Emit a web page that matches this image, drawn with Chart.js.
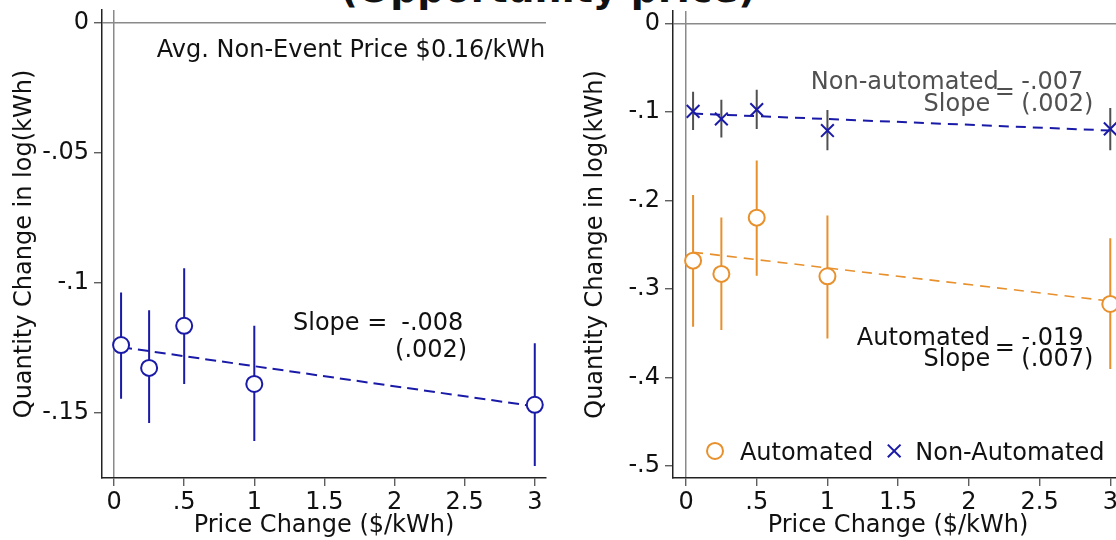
<!DOCTYPE html>
<html>
<head>
<meta charset="utf-8">
<script src="https://cdn.jsdelivr.net/npm/chart.js@4"></script>
<style>
  html, body { margin: 0; padding: 0; background: #fff; }
  body { width: 1116px; height: 540px; overflow: hidden; position: relative; }
  canvas { position: absolute; top: 0; }
  #title {
    position: absolute; left: 0; width: 1096px; top: -30px;
    text-align: center; white-space: nowrap; color: #111;
    font: bold 38px "DejaVu Sans"; line-height: 38px;
  }
</style>
</head>
<body>
<div id="title">(Opportunity price)</div>
<canvas id="pooled" width="560" height="540" style="left:0"></canvas>
<canvas id="byType" width="575" height="540" style="left:560px"></canvas>
<script>
// price steps tested ($/kWh)
const priceSteps = [0.05, 0.25, 0.5, 1, 3];
const fitEnds = [0.05, 3];

// pooled sample
const pooledEst = [-0.124, -0.1328, -0.1166, -0.139, -0.147];
const pooledLo  = [-0.1447, -0.154, -0.139, -0.161, -0.1706];
const pooledHi  = [-0.1038, -0.1106, -0.0944, -0.1166, -0.1233];
const pooledFit = [-0.1248, -0.1476];

// automated households
const autoEst = [-0.268, -0.283, -0.2193, -0.2857, -0.317];
const autoLo  = [-0.3427, -0.3465, -0.285, -0.3562, -0.3907];
const autoHi  = [-0.1938, -0.219, -0.1545, -0.217, -0.2426];
const autoFit = [-0.2584, -0.3138];

// non-automated households
const manualEst = [-0.099, -0.1076, -0.097, -0.1207, -0.1189];
const manualLo  = [-0.120, -0.1286, -0.119, -0.143, -0.143];
const manualHi  = [-0.0768, -0.0858, -0.0746, -0.0975, -0.0952];
const manualFit = [-0.1015, -0.1207];

// axis ticks
const xTicks = [0, 0.5, 1, 1.5, 2, 2.5, 3];
const xTickLabels = ['0', '.5', '1', '1.5', '2', '2.5', '3'];
const yTicksPooled = [0, -0.05, -0.1, -0.15];
const yLabelsPooled = ['0', '-.05', '-.1', '-.15'];
const yTicksByType = [0, -0.1, -0.2, -0.3, -0.4, -0.5];
const yLabelsByType = ['0', '-.1', '-.2', '-.3', '-.4', '-.5'];

const BLUE = '#1a1aa8';
const ORANGE = '#e8902c';
const ZERO = '#8a8a8a';
const FONT = '24px "DejaVu Sans"';

Chart.defaults.font.family = '"DejaVu Sans"';
Chart.defaults.font.size = 24;
Chart.defaults.color = '#111';

function pts(xs, ys) {
  return xs.map((x, i) => ({ x: x, y: ys[i] }));
}

// vertical CI segments, separated by gaps
function ciSegments(xs, lo, hi) {
  const out = [];
  xs.forEach((x, i) => {
    out.push({ x: x, y: lo[i] }, { x: x, y: hi[i] }, { x: x, y: null });
  });
  return out;
}

function zeroColor(c) {
  return c.tick && c.tick.value === 0 ? ZERO : 'rgba(0,0,0,0)';
}

// keep the plot box fixed: no extra room for overhanging labels
function noPad(s) {
  s.paddingTop = 0; s.paddingBottom = 0; s.paddingLeft = 0; s.paddingRight = 0;
}

function xAxis(min, max) {
  return {
    type: 'linear', min: min, max: max,
    afterBuildTicks: s => { s.ticks = xTicks.map(v => ({ value: v })); },
    afterFit: s => { s.height = 62; noPad(s); },
    ticks: { autoSkip: false, maxRotation: 0, padding: 2, callback: (v, i) => xTickLabels[i] },
    grid: { color: zeroColor, lineWidth: 1.5, tickColor: '#444', tickLength: 8, tickWidth: 1.2 },
    border: { display: true, color: '#222', width: 1.5 },
    title: { display: true, text: 'Price Change ($/kWh)', padding: { top: 0, bottom: 0 } }
  };
}

function yAxis(min, max, ticks, labels, width, titlePad) {
  return {
    type: 'linear', min: min, max: max,
    afterBuildTicks: s => { s.ticks = ticks.map(v => ({ value: v })); },
    afterFit: s => { s.width = width; noPad(s); },
    ticks: { padding: 5, callback: (v, i) => labels[i] },
    grid: { color: zeroColor, lineWidth: 1.5, tickColor: '#444', tickLength: 8, tickWidth: 1.2 },
    border: { display: true, color: '#222', width: 1.5 },
    title: { display: true, text: 'Quantity Change in log(kWh)', padding: { top: titlePad, bottom: 0 } }
  };
}

// free text placed in data coordinates
const notesPlugin = {
  id: 'notes',
  afterDatasetsDraw(chart, args, opts) {
    const { ctx, scales } = chart;
    ctx.save();
    ctx.font = FONT;
    ctx.textBaseline = 'alphabetic';
    (opts.items || []).forEach(n => {
      ctx.fillStyle = n.color || '#111';
      ctx.textAlign = n.align || 'left';
      ctx.fillText(n.text, scales.x.getPixelForValue(n.x), scales.y.getPixelForValue(n.y));
    });
    ctx.restore();
  }
};

// in-plot legend (marker + label)
const keyPlugin = {
  id: 'key',
  afterDatasetsDraw(chart, args, opts) {
    if (!opts.items) return;
    const { ctx, scales } = chart;
    ctx.save();
    ctx.font = FONT;
    ctx.textAlign = 'left';
    ctx.textBaseline = 'alphabetic';
    opts.items.forEach(k => {
      const mx = scales.x.getPixelForValue(k.mx);
      const my = scales.y.getPixelForValue(k.my);
      ctx.lineWidth = 2;
      ctx.strokeStyle = k.color;
      ctx.fillStyle = '#fff';
      Chart.helpers.drawPoint(ctx, { pointStyle: k.style, radius: k.radius, borderWidth: 2, rotation: 0 }, mx, my);
      ctx.fillStyle = '#111';
      ctx.fillText(k.text, scales.x.getPixelForValue(k.tx), scales.y.getPixelForValue(k.ty));
    });
    ctx.restore();
  }
};

const baseOpts = {
  responsive: false,
  animation: false,
  devicePixelRatio: 1,
  events: [],
  plugins: { legend: { display: false }, tooltip: { enabled: false } }
};

// left: all customers
new Chart(document.getElementById('pooled'), {
  type: 'scatter',
  data: {
    datasets: [
      { data: pts(priceSteps, pooledEst), pointStyle: 'circle', pointRadius: 8, borderWidth: 2,
        borderColor: BLUE, backgroundColor: '#fff', order: 0 },
      { data: ciSegments(priceSteps, pooledLo, pooledHi), showLine: true, spanGaps: false,
        pointRadius: 0, borderColor: BLUE, borderWidth: 2, order: 1 },
      { data: pts(fitEnds, pooledFit), showLine: true, pointRadius: 0, borderColor: BLUE,
        borderWidth: 2, borderDash: [11, 6], order: 2 }
    ]
  },
  options: Object.assign({}, baseOpts, {
    layout: { padding: { left: 0, top: 8, right: 14, bottom: 0 } },
    scales: {
      x: xAxis(-0.086, 3.08),
      y: yAxis(-0.1752, 0.005, yTicksPooled, yLabelsPooled, 102, 10)
    },
    plugins: Object.assign({}, baseOpts.plugins, {
      notes: { items: [
        { text: 'Avg. Non-Event Price $0.16/kWh', x: 0.305, y: -0.0130 },
        { text: 'Slope =', x: 1.276, y: -0.1182 },
        { text: '-.008', x: 2.269, y: -0.1182, align: 'center' },
        { text: '(.002)', x: 2.261, y: -0.1287, align: 'center' }
      ] }
    })
  }),
  plugins: [notesPlugin]
});

// right: automated vs non-automated
new Chart(document.getElementById('byType'), {
  type: 'scatter',
  data: {
    datasets: [
      { data: pts(priceSteps, manualEst), pointStyle: 'crossRot', pointRadius: 9, borderWidth: 2,
        borderColor: BLUE, order: 0 },
      { data: pts(priceSteps, autoEst), pointStyle: 'circle', pointRadius: 8, borderWidth: 2,
        borderColor: ORANGE, backgroundColor: '#fff', order: 0 },
      { data: ciSegments(priceSteps, manualLo, manualHi), showLine: true, spanGaps: false,
        pointRadius: 0, borderColor: '#505050', borderWidth: 2, order: 1 },
      { data: ciSegments(priceSteps, autoLo, autoHi), showLine: true, spanGaps: false,
        pointRadius: 0, borderColor: ORANGE, borderWidth: 2, order: 1 },
      { data: pts(fitEnds, manualFit), showLine: true, pointRadius: 0, borderColor: BLUE,
        borderWidth: 2, borderDash: [10, 7], order: 2 },
      { data: pts(fitEnds, autoFit), showLine: true, pointRadius: 0, borderColor: ORANGE,
        borderWidth: 1.6, borderDash: [10, 7], order: 2 }
    ]
  },
  options: Object.assign({}, baseOpts, {
    layout: { padding: { left: 0, top: 8, right: 12, bottom: 0 } },
    scales: {
      x: xAxis(-0.092, 3.09),
      y: yAxis(-0.514, 0.0146, yTicksByType, yLabelsByType, 113, 21.6)
    },
    plugins: Object.assign({}, baseOpts.plugins, {
      notes: { items: [
        { text: 'Non-automated', x: 0.8825, y: -0.0737, color: '#505050' },
        { text: '=', x: 2.254, y: -0.0855, align: 'center', color: '#505050' },
        { text: '-.007', x: 2.590, y: -0.0737, align: 'center', color: '#505050' },
        { text: 'Slope', x: 2.151, y: -0.0984, align: 'right', color: '#505050' },
        { text: '(.002)', x: 2.626, y: -0.0984, align: 'center', color: '#505050' },
        { text: 'Automated', x: 1.208, y: -0.3633 },
        { text: '=', x: 2.254, y: -0.3751, align: 'center' },
        { text: '-.019', x: 2.592, y: -0.3633, align: 'center' },
        { text: 'Slope', x: 2.151, y: -0.3877, align: 'right' },
        { text: '(.007)', x: 2.626, y: -0.3877, align: 'center' }
      ] },
      key: { items: [
        { style: 'circle', radius: 8, color: ORANGE, mx: 0.205, my: -0.4834, text: 'Automated', tx: 0.381, ty: -0.4932 },
        { style: 'crossRot', radius: 9, color: BLUE, mx: 1.472, my: -0.4834, text: 'Non-Automated', tx: 1.621, ty: -0.4932 }
      ] }
    })
  }),
  plugins: [notesPlugin, keyPlugin]
});
</script>
</body>
</html>
